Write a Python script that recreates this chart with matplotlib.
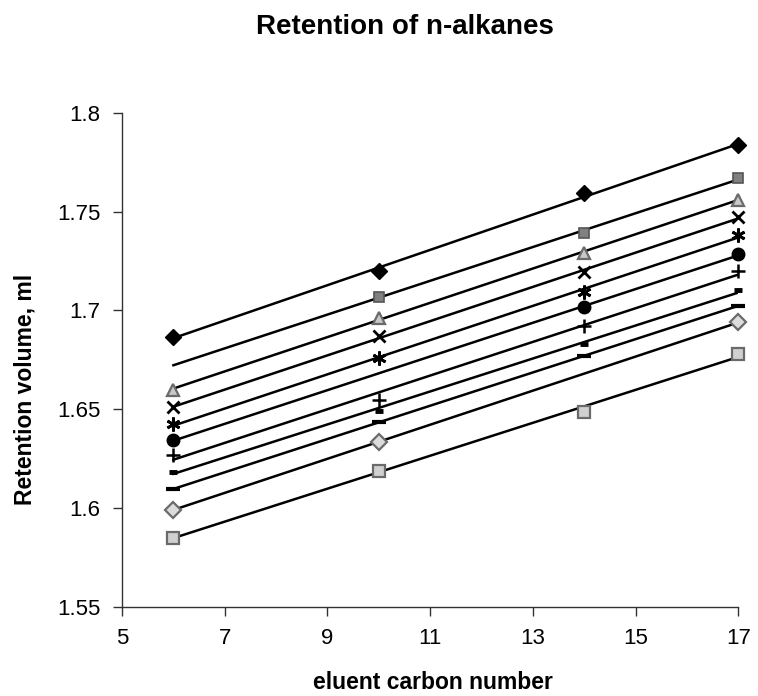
import numpy as np
import matplotlib.pyplot as plt
from matplotlib.ticker import FormatStrFormatter

plt.rcParams['font.family'] = ['Liberation Sans', 'DejaVu Sans']

# eluent carbon numbers
carbon = np.array([6, 10, 14, 17])

# retention volumes (ml), one series per n-alkane; nan = point not plotted
s1 = [1.6866, 1.7199, 1.7593, 1.7835]
s2 = [np.nan, 1.7070, 1.7393, 1.7670]
s3 = [1.6599, 1.6964, 1.7291, 1.7560]
s4 = [1.6509, 1.6871, 1.7192, 1.7471]
s5 = [1.6423, 1.6760, 1.7095, 1.7381]
s6 = [1.6343, np.nan, 1.7015, 1.7284]
s7 = [1.6270, 1.6548, 1.6920, 1.7199]
s8 = [1.6185, 1.6493, 1.6828, 1.7104]
s9 = [1.6097, 1.6434, 1.6769, 1.7024]
s10 = [1.5991, 1.6335, np.nan, 1.6939]
s11 = [1.5850, 1.6190, 1.6488, 1.6781]

series = [s1, s2, s3, s4, s5, s6, s7, s8, s9, s10, s11]

# marker styles: (marker, size, face, edge, edge width)
styles = [
    ('D', 8.5, 'black', 'black', 1.0),
    ('s', 7.5, '#808080', '#555555', 1.2),
    ('^', 9, '#c8c8c8', '#6a6a6a', 1.6),
    ('x', 9, 'none', 'black', 2.0),
    ((6, 2, 0), 10, 'none', 'black', 2.0),
    ('o', 9, 'black', 'black', 1.0),
    ('+', 10, 'none', 'black', 1.8),
    ('_', 5.5, 'none', 'black', 3.5),
    ('_', 10, 'none', 'black', 3.0),
    ('D', 8, '#dcdcdc', '#6a6a6a', 1.6),
    ('s', 8, '#d0d0d0', '#6a6a6a', 1.6),
]

fig = plt.figure(figsize=(7.58, 6.96), dpi=100)
ax = fig.add_axes([0.161, 0.128, 0.813, 0.71])

xfit = np.array([carbon.min(), carbon.max()])
for vals, (m, ms, fc, ec, mew) in zip(series, styles):
    y = np.array(vals, dtype=float)
    ok = ~np.isnan(y)
    # linear trendline through the measured points
    k, b = np.polyfit(carbon[ok], y[ok], 1)
    ax.plot(xfit, k * xfit + b, color='black', lw=1.8, zorder=2)
    ax.plot(carbon[ok], y[ok], linestyle='none', marker=m, markersize=ms,
            markerfacecolor=fc, markeredgecolor=ec, markeredgewidth=mew,
            zorder=3, clip_on=False)

ax.set_xlim(5, 17)
ax.set_ylim(1.55, 1.8)
ax.set_xticks(np.arange(5, 18, 2))
ax.set_yticks([1.55, 1.6, 1.65, 1.7, 1.75, 1.8])
ax.yaxis.set_major_formatter(FormatStrFormatter('%g'))

for side in ('top', 'right'):
    ax.spines[side].set_visible(False)
for side in ('left', 'bottom'):
    ax.spines[side].set_color('#333333')
    ax.spines[side].set_linewidth(1.0)

ax.tick_params(direction='out', length=6.5, width=1.0, color='#333333',
               labelsize=16, pad=9)

ax.set_xlabel('eluent carbon number', fontsize=16.5, fontweight='bold')
ax.xaxis.set_label_coords(0.505, -0.13)
ax.set_ylabel('Retention volume, ml', fontsize=16.5, fontweight='bold')
ax.yaxis.set_label_coords(-0.138, 0.44)

fig.text(0.534, 0.961, 'Retention of n-alkanes', fontsize=20,
         fontweight='bold', ha='center', va='center')

fig.savefig('out.png', dpi=100, facecolor='white')
